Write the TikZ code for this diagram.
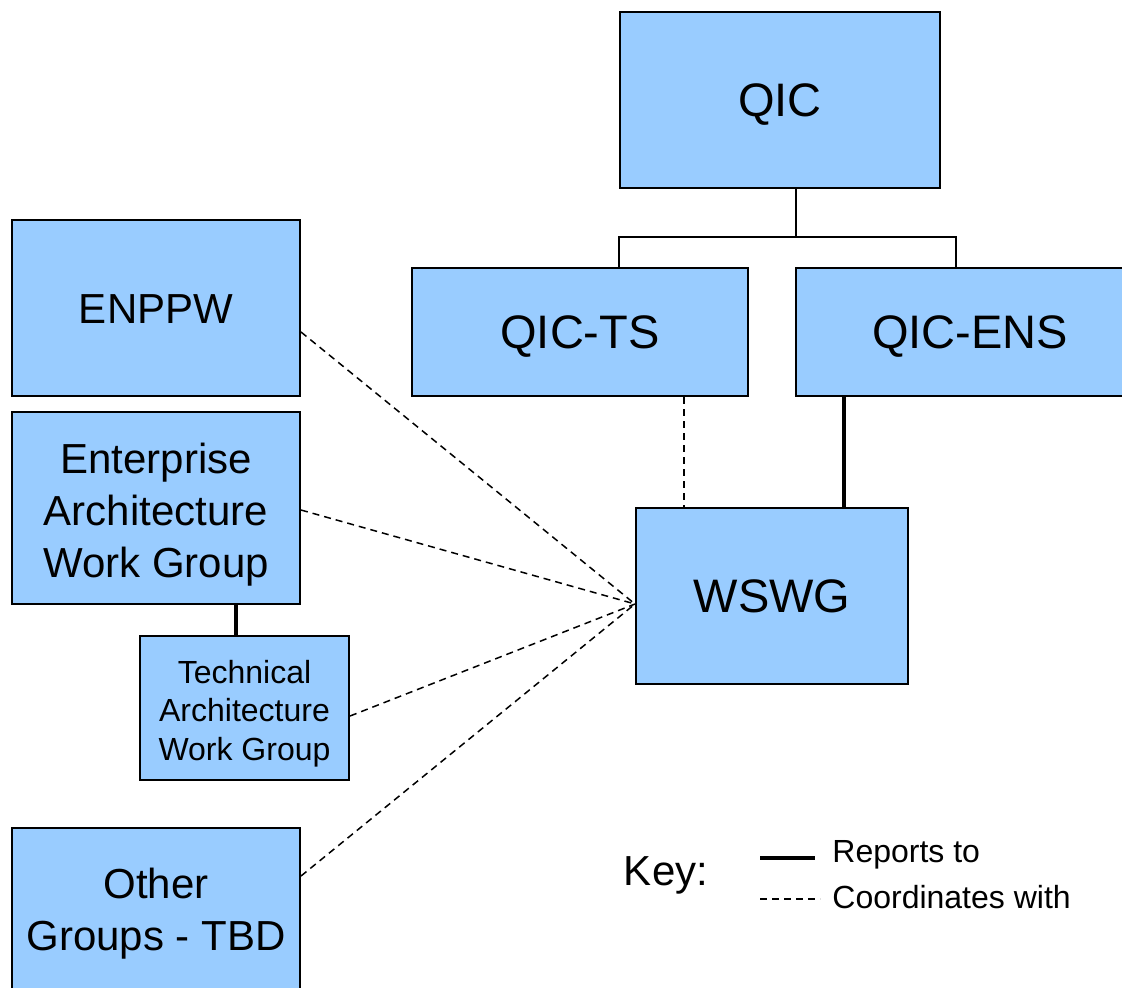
\documentclass[tikz,border=0pt]{standalone}
\usepackage{fontspec}
\setmainfont{Liberation Sans}
\usepackage{tikz}
\usetikzlibrary{arrows.meta,calc}
\definecolor{groupblue}{HTML}{99CCFF}

\begin{document}
\begin{tikzpicture}[x=0.5pt, y=-0.5pt,
  group/.style={draw=black, line width=1pt, fill=groupblue, align=center, inner sep=0pt},
  bigtext/.style={font=\fontsize{23.5}{28}\selectfont, text height=16.8pt, text depth=0pt},
  midtext/.style={font=\fontsize{21}{26}\selectfont, text height=15pt, text depth=0pt},
  smalltext/.style={font=\fontsize{16}{19.25}\selectfont, text height=11.5pt, text depth=0pt},
  reports/.style={line width=2pt},
  coord/.style={line width=0.75pt, dash pattern=on 3.5pt off 2.5pt},
  tree/.style={line width=1pt}]

  \useasboundingbox (0,0) rectangle (1122,987);
  \clip (0,0) rectangle (1122,987);

  %% top of the chart
  \node[group, bigtext, minimum width=160pt, minimum height=88pt] (qic) at (780,100) {QIC};
  \node[group, bigtext, minimum width=168pt, minimum height=64pt] (qicts) at (580,332) {QIC-TS};
  \node[group, bigtext, minimum width=174pt, minimum height=64pt] (qicens) at (970,332) {QIC-ENS};
  \node[group, bigtext, minimum width=136pt, minimum height=88pt] (wswg) at (772,596) {WSWG};

  %% groups on the left
  \node[group, midtext, minimum width=144pt, minimum height=88pt] (enppw) at (156,308) {ENPPW};
  \node[group, midtext, text height=69pt, minimum width=144pt, minimum height=96pt] (eawg) at (156,508) {Enterprise\\Architecture\\Work Group};
  \node[group, smalltext, text height=52pt, minimum width=104.5pt, minimum height=72pt] (tawg) at (244.5,708) {Technical\\Architecture\\Work Group};
  \node[group, midtext, text height=41pt, minimum width=144pt, minimum height=81pt] (other) at (156,909) {Other\\Groups - TBD};

  %% tree under QIC
  \draw[tree] ([xshift=8pt]qic.south) -- ++(0,48) coordinate (fork);
  \draw[tree] ([xshift=19.5pt]qicts.north) |- (fork) -| ([xshift=-7pt]qicens.north);

  \draw[coord] ([xshift=52pt]qicts.south) -- ([xshift=52pt]qicts.south |- wswg.north); % TS-WSWG
  \draw[reports] ([xshift=-63pt]qicens.south) -- ([xshift=-63pt]qicens.south |- wswg.north); % ENS-WSWG
  \draw[reports] ([xshift=40pt]eawg.south) -- ([xshift=40pt]eawg.south |- tawg.north); % EAWG-TAWG

  \coordinate (hub) at ([yshift=-4pt]wswg.west);
  \draw[coord] ([yshift=-12pt]enppw.east) -- (hub);
  \draw[coord] ([yshift=-1pt]eawg.east) -- (hub);
  \draw[coord] ([yshift=-4pt]tawg.east) -- (hub);
  \draw[coord] ([yshift=16.5pt]other.east) -- (hub);

  %% key
  \node[midtext] (key) at (666,870) {Key:};
  \node[smalltext, anchor=west, inner sep=0pt] (rep) at (832,851) {Reports to};
  \node[smalltext, anchor=west, inner sep=0pt] (cwith) at (832,897) {Coordinates with};
  \coordinate (repA) at (760,858);
  \coordinate (repB) at (815,858);
  \coordinate (cwA) at (760,899);
  \coordinate (cwB) at (820,899);
  \draw[reports] (repA) -- (repB);
  \draw[coord] (cwA) -- (cwB);

\end{tikzpicture}
\end{document}
